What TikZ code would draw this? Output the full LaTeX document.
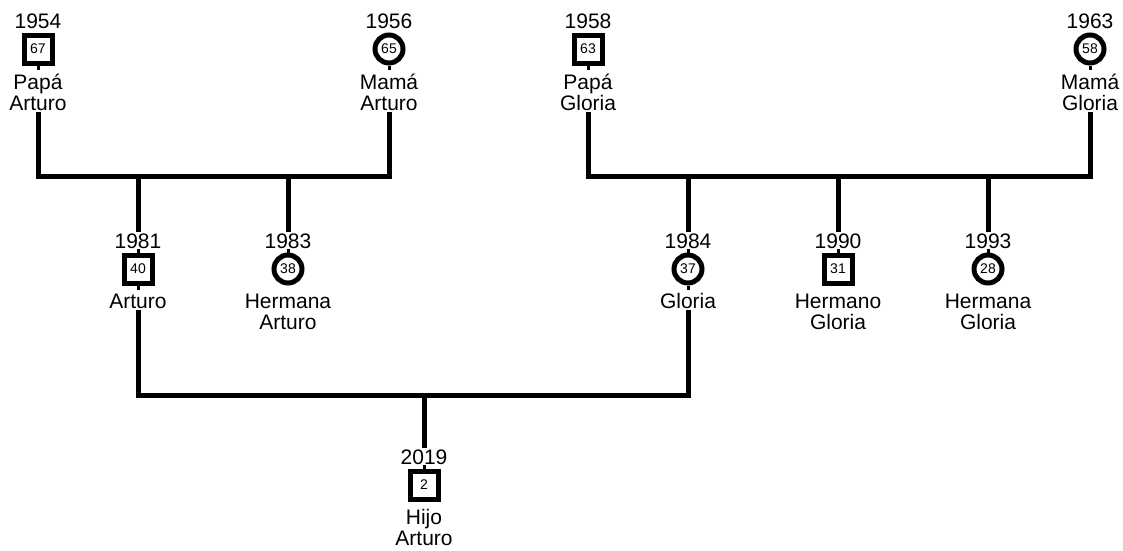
\documentclass[tikz,border=0pt]{standalone}
\usepackage{fontspec}
\setmainfont{Liberation Sans}
\usetikzlibrary{positioning}
\definecolor{ink}{HTML}{000000}

\tikzset{
  male/.style={draw=ink, line width=5pt, rectangle, minimum size=28pt, inner sep=0pt, font=\fontsize{14}{15}\selectfont},
  female/.style={draw=ink, line width=5pt, circle, minimum size=28pt, inner sep=0pt, font=\fontsize{14}{15}\selectfont},
  yr/.style={font=\fontsize{21}{22}\selectfont, inner sep=1pt},
  who/.style={font=\fontsize{21}{21}\selectfont, align=center, inner sep=1pt},
  famline/.style={draw=ink, line width=5pt},
  stub/.style={draw=ink, line width=3pt}
}

\begin{document}
\begin{tikzpicture}[x=1pt, y=-1pt]
  \useasboundingbox (0,0) rectangle (1123,550);
  % personas: simbolo, anno y nombre
  \foreach \id/\x/\y/\kind/\yr/\age/\who in {
      pa/38/49/male/1954/67/{Papá\\Arturo},
      ma/389/49/female/1956/65/{Mamá\\Arturo},
      pg/588/49/male/1958/63/{Papá\\Gloria},
      mg/1090/49/female/1963/58/{Mamá\\Gloria},
      ar/138/269/male/1981/40/Arturo,
      ha/288/269/female/1983/38/{Hermana\\Arturo},
      gl/688/269/female/1984/37/Gloria,
      hg/838/269/male/1990/31/{Hermano\\Gloria},
      hm/988/269/female/1993/28/{Hermana\\Gloria},
      hj/424/485/male/2019/2/{Hijo\\Arturo}}{
    \node[\kind] (\id) at (\x,\y) {\age};
    \node[yr, above=3pt of \id] (\id-yr) {\yr};
    \node[who, below=7pt of \id] (\id-nm) {\who};
  }
  \foreach \id in {pa,ma,pg,mg,ar,gl} \draw[stub] (\id.south) -- ++(0,4);
  \foreach \id in {ar,ha,gl,hg,hm,hj} \draw[stub] (\id.north) -- ++(0,-4);

  % lineas de familia
  \coordinate (topbar) at (0,176);
  \coordinate (lowbar) at (0,395);
  \draw[famline] (pa-nm.south) |- (ma-nm.south |- topbar) -- (ma-nm.south);
  \draw[famline] (pg-nm.south) |- (mg-nm.south |- topbar) -- (mg-nm.south);
  \foreach \id in {ar,ha,gl,hg,hm} \draw[famline] (\id-yr.north) -- (\id-yr.north |- topbar);
  \draw[famline] (ar-nm.south) |- (gl-nm.south |- lowbar) -- (gl-nm.south);
  \draw[famline] (hj-yr.north) -- (hj-yr.north |- lowbar);
\end{tikzpicture}
\end{document}
